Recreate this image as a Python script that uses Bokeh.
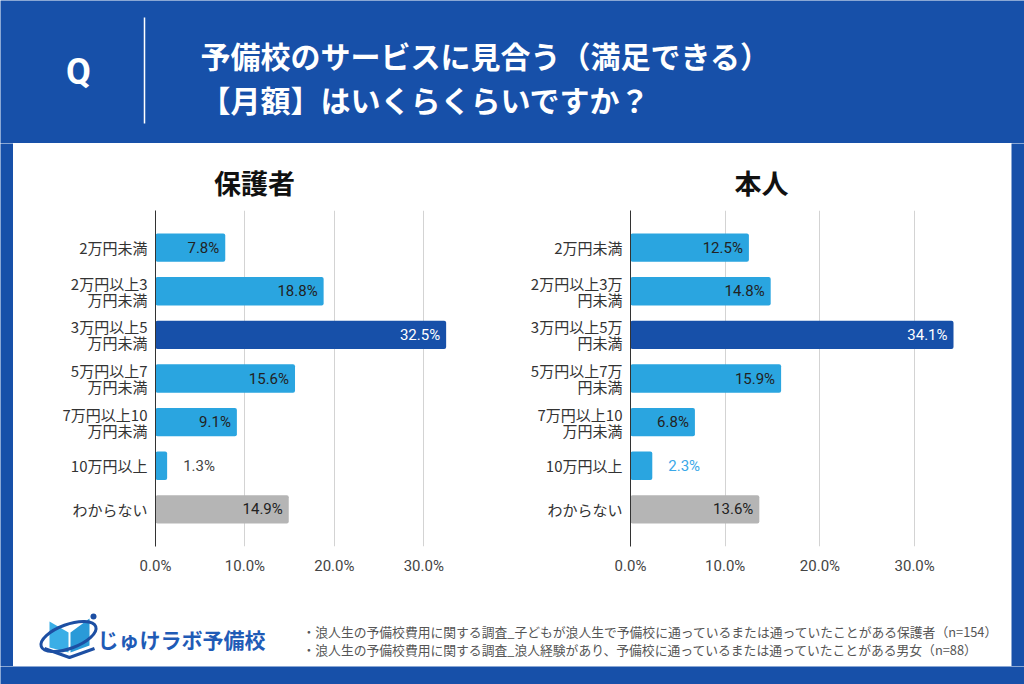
from bokeh.plotting import figure
from bokeh.layouts import row, column
from bokeh.models import Range1d, FactorRange, FixedTicker, ColumnDataSource
from bokeh.embed import file_html
from bokeh.resources import INLINE
from bokeh.core.properties import value

# ---------------- data ----------------
title_line1 = "予備校のサービスに見合う（満足できる）"
title_line2 = "【月額】はいくらくらいですか？"

parent_title = "保護者"
parent_categories = ["2万円未満", "2万円以上3\n万円未満", "3万円以上5\n万円未満", "5万円以上7\n万円未満",
                     "7万円以上10\n万円未満", "10万円以上", "わからない"]
parent_values = [7.8, 18.8, 32.5, 15.6, 9.1, 1.3, 14.9]

student_title = "本人"
student_categories = ["2万円未満", "2万円以上3万\n円未満", "3万円以上5万\n円未満", "5万円以上7万\n円未満",
                      "7万円以上10\n万円未満", "10万円以上", "わからない"]
student_values = [12.5, 14.8, 34.1, 15.9, 6.8, 2.3, 13.6]

xticks = [0, 10, 20, 30]
xtick_labels = ["0.0%", "10.0%", "20.0%", "30.0%"]

notes = ["・浪人生の予備校費用に関する調査_子どもが浪人生で予備校に通っているまたは通っていたことがある保護者（n=154）",
         "・浪人生の予備校費用に関する調査_浪人経験があり、予備校に通っているまたは通っていたことがある男女（n=88）"]
logo_text = "じゅけラボ予備校"

# ---------------- style ----------------
BLUE = "#1750a9"
LIGHT = "#2aa5e0"
GRAY = "#b5b5b5"
JP = "Noto Sans CJK JP"


def canvas(x0, x1, y0, y1, bg):
    p = figure(width=x1 - x0, height=y1 - y0, x_range=Range1d(x0, x1), y_range=Range1d(y1, y0),
               x_axis_type=None, y_axis_type=None, output_backend="svg", toolbar_location=None,
               min_border=0, background_fill_color=bg, border_fill_color=bg, outline_line_color=None)
    p.grid.visible = False
    return p


# header
header = canvas(0, 1024, 0, 143, BLUE)
header.text(x=[78], y=[71], text=["Q"], text_font=value("Roboto"), text_font_style="bold",
            text_font_size="36px", text_color="white", text_align="center", text_baseline="middle")
header.segment(x0=[144], y0=[17], x1=[144], y1=[123], line_color="white", line_width=1.5)
header.text(x=[200, 200], y=[54, 98], text=[title_line1, title_line2], text_font=value(JP),
            text_font_style="bold", text_font_size="30px", text_color="white",
            text_align="left", text_baseline="middle")

# chart titles
titles = canvas(13, 1011, 143, 204, "white")
titles.text(x=[254, 761], y=[182, 182], text=[parent_title, student_title], text_font=value(JP),
            text_font_style="bold", text_font_size="27px", text_color="#111111",
            text_align="center", text_baseline="middle")


def bar_chart(cats, vals, width, height, frame_left, frame_top, frame_w, frame_h, xmax, outside_color):
    p = figure(width=width, height=height, x_range=Range1d(0, xmax),
               y_range=FactorRange(factors=cats[::-1], range_padding=0.35, range_padding_units="absolute"),
               output_backend="svg", toolbar_location=None,
               min_border_left=frame_left, min_border_right=width - frame_left - frame_w,
               min_border_top=frame_top, min_border_bottom=height - frame_top - frame_h,
               background_fill_color="white", border_fill_color="white", outline_line_color=None)
    n = len(vals)
    imax = max(range(n), key=lambda i: vals[i])
    colors = [LIGHT] * n
    colors[imax] = BLUE
    colors[-1] = GRAY
    src = ColumnDataSource(dict(cat=cats, val=vals, color=colors))
    p.hbar(y="cat", left=0, right="val", height=0.65, source=src, fill_color="color",
           line_color=None, border_radius=2)

    inside = [i for i in range(n) if vals[i] >= 5]
    outside = [i for i in range(n) if vals[i] < 5]
    src_in = ColumnDataSource(dict(cat=[cats[i] for i in inside], val=[vals[i] for i in inside],
                                   txt=["%.1f%%" % vals[i] for i in inside],
                                   col=["white" if i == imax else "#222222" for i in inside]))
    p.text(x="val", y="cat", text="txt", source=src_in, x_offset=-6, text_align="right",
           text_baseline="middle", text_font=value("Roboto"), text_font_size="15px", text_color="col")
    src_out = ColumnDataSource(dict(cat=[cats[i] for i in outside], val=[vals[i] for i in outside],
                                    txt=["%.1f%%" % vals[i] for i in outside]))
    p.text(x="val", y="cat", text="txt", source=src_out, x_offset=16, text_align="left",
           text_baseline="middle", text_font=value("Roboto"), text_font_size="15px",
           text_color=outside_color)

    p.ygrid.visible = False
    p.xgrid.ticker = FixedTicker(ticks=xticks)
    p.xgrid.grid_line_color = "#d3d3d3"
    p.xgrid.grid_line_width = 1

    xa = p.xaxis[0]
    xa.ticker = FixedTicker(ticks=xticks)
    xa.major_label_overrides = {t: l for t, l in zip(xticks, xtick_labels)}
    xa.axis_line_color = None
    xa.major_tick_line_color = None
    xa.minor_tick_line_color = None
    xa.major_tick_out = 0
    xa.major_tick_in = 0
    xa.major_label_standoff = 10
    xa.major_label_text_font = "Roboto"
    xa.major_label_text_font_size = "15px"
    xa.major_label_text_color = "#444444"

    ya = p.yaxis[0]
    ya.axis_line_color = "#333333"
    ya.axis_line_width = 1
    ya.major_tick_line_color = None
    ya.minor_tick_line_color = None
    ya.major_tick_out = 0
    ya.major_tick_in = 0
    ya.major_label_standoff = 8
    ya.major_label_text_font = JP
    ya.major_label_text_font_size = "15px"
    ya.major_label_text_color = "#333333"
    ya.major_label_text_line_height = 0.77
    return p


p1 = bar_chart(parent_categories, parent_values, 477, 386, 142, 6, 313, 341, 35, "#444444")
p2 = bar_chart(student_categories, student_values, 521, 386, 140, 0, 341, 342, 36, "#3aa8e8")

# footer
footer = canvas(13, 1011, 590, 666, "white")
footer.patch(x=[49, 68, 68, 49], y=[621, 632, 652, 647], fill_color="#3aaee6", line_color=None)
footer.patch(x=[70, 89, 89, 70], y=[632, 618, 645, 652], fill_color="#2a9ad8", line_color=None)
footer.line(x=[44, 69, 94], y=[648, 657, 648], line_color="#1d4fa3", line_width=3)
footer.ellipse(x=[68], y=[636], width=58, height=24, angle=0.35, fill_color=None,
               line_color="#1d4fa3", line_width=3)
footer.scatter(x=[93], y=[616], size=6, fill_color="#1d4fa3", line_color=None)
footer.text(x=[97], y=[638], text=[logo_text], text_font=value(JP), text_font_style="bold",
            text_font_size="21px", text_color="#1f5bb6", text_align="left", text_baseline="middle")
footer.text(x=[302, 302], y=[631, 649], text=notes, text_font=value(JP), text_font_size="12.8px",
            text_color="#555555", text_align="left", text_baseline="middle")

left_strip = canvas(0, 13, 143, 666, BLUE)
right_strip = canvas(1011, 1024, 143, 666, BLUE)
bottom = canvas(0, 1024, 666, 684, BLUE)

middle = column(titles, row(p1, p2, spacing=0), footer, spacing=0)
layout = column(header, row(left_strip, middle, right_strip, spacing=0), bottom, spacing=0)

open("out.html", "w").write(file_html(layout, INLINE))
